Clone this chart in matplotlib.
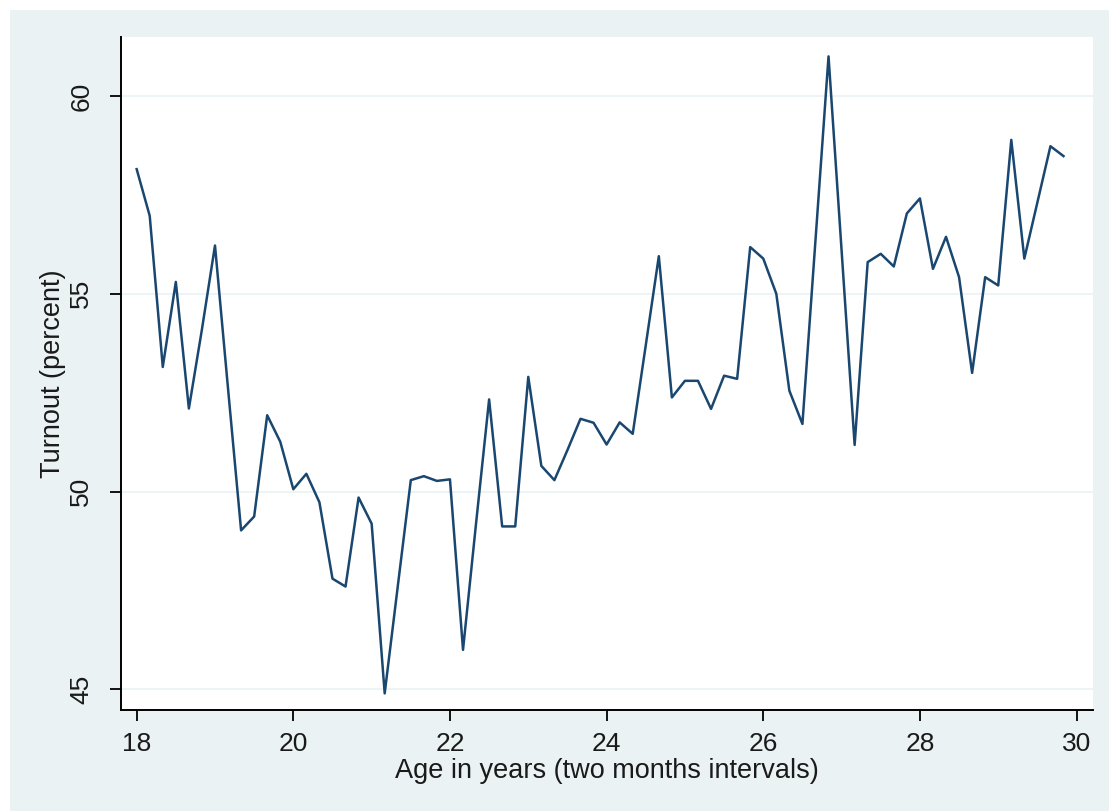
import matplotlib
matplotlib.use("Agg")
import matplotlib.pyplot as plt
from matplotlib.patches import Rectangle
import numpy as np

# Age in years, two-month intervals (18.0 ... 29.833)
age = [18 + i / 6 for i in range(72)]
turnout = [
    58.15, 56.97, 53.15, 55.30, 52.10, 54.10, 56.22, 52.60, 49.02, 49.37,
    51.93, 51.26, 50.06, 50.45, 49.73, 47.80, 47.60, 49.85, 49.19, 44.90,
    47.60, 50.29, 50.39, 50.27, 50.31, 46.00, 49.20, 52.33, 49.12, 49.12,
    52.90, 50.65, 50.29, 51.05, 51.84, 51.74, 51.19, 51.75, 51.46, 53.70,
    55.95, 52.38, 52.80, 52.80, 52.09, 52.93, 52.85, 56.18, 55.89, 55.00,
    52.55, 51.71, 56.35, 61.00, 56.10, 51.18, 55.80, 56.01, 55.69, 57.03,
    57.41, 55.63, 56.44, 55.42, 53.00, 55.42, 55.21, 58.89, 55.89, 57.31,
    58.73, 58.48,
]
xticks = [18, 20, 22, 24, 26, 28, 30]
yticks = [45, 50, 55, 60]

BG = "#EAF2F3"
LINE = "#1A476F"
TXT = "#1a1a1a"

plt.rcParams['font.family'] = ['Liberation Sans', 'DejaVu Sans']

fig = plt.figure(figsize=(11.09, 8.11), dpi=100)
fig.patch.set_facecolor("white")
fig.patches.append(Rectangle((10 / 1109, 0), 1 - 10 / 1109, 1 - 10 / 811,
                             transform=fig.transFigure, facecolor=BG,
                             edgecolor="none", zorder=-10))

ax = fig.add_axes([121 / 1109, 1 - 710 / 811, (1093 - 121) / 1109, (710 - 37) / 811])
ax.set_facecolor("white")

ax.plot(age, turnout, color=LINE, linewidth=1.8, zorder=3)

ax.set_xlim(17.8, 30.21)
ax.set_ylim(44.48, 61.49)
ax.set_xticks(xticks)
ax.set_yticks(yticks)
ax.set_yticklabels([str(v) for v in yticks], rotation=90, va="center")

for s in ["top", "right"]:
    ax.spines[s].set_visible(False)
for s in ["left", "bottom"]:
    ax.spines[s].set_linewidth(1.4)
    ax.spines[s].set_color("black")

ax.tick_params(axis="both", length=8, width=1.3, labelsize=19, colors="black",
               labelcolor=TXT)
ax.tick_params(axis="x", pad=8)
ax.tick_params(axis="y", pad=12)

ax.grid(axis="y", color=BG, linewidth=1.2, zorder=0)
ax.grid(axis="x", visible=False)

ax.set_xlabel("Age in years (two months intervals)", fontsize=19.5, color=TXT, labelpad=1)
ax.set_ylabel("Turnout (percent)", fontsize=19.5, color=TXT, labelpad=2)

fig.savefig("out.png", dpi=100, facecolor=fig.get_facecolor())
